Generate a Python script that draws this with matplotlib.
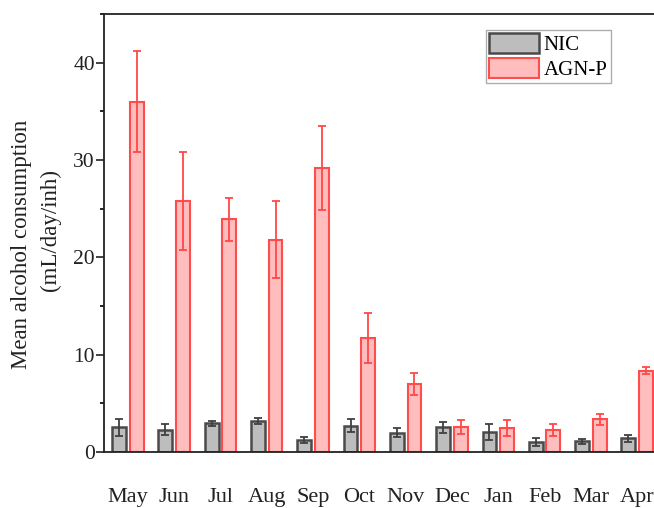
import matplotlib
matplotlib.use("Agg")
import matplotlib.pyplot as plt
import numpy as np

months = ["May", "Jun", "Jul", "Aug", "Sep", "Oct", "Nov", "Dec", "Jan", "Feb", "Mar", "Apr"]
nic_mean = [2.55, 2.3, 2.95, 3.2, 1.23, 2.7, 2.0, 2.55, 2.1, 1.05, 1.1, 1.4]
nic_err = [0.87, 0.53, 0.25, 0.3, 0.35, 0.66, 0.48, 0.58, 0.82, 0.39, 0.26, 0.34]
agn_mean = [36.0, 25.8, 23.9, 21.8, 29.2, 11.7, 7.0, 2.55, 2.45, 2.26, 3.35, 8.35]
agn_err = [5.2, 5.03, 2.2, 3.95, 4.3, 2.6, 1.1, 0.7, 0.83, 0.58, 0.56, 0.37]
y_ticks = [0, 10, 20, 30, 40]

plt.rcParams['font.family'] = ['Liberation Serif', 'DejaVu Serif']

W, H = 654, 508
fig = plt.figure(figsize=(W / 100, H / 100), dpi=100)
ax = fig.add_axes([104 / W, (H - 452) / H, (661 - 104) / W, (452 - 14) / H])

x = np.arange(len(months))
bw = 0.30
off = 0.19
gray_fc, gray_ec = "#bdbdbd", "#4a4a4a"
pink_fc, pink_ec = "#ffbdbd", "#ff4c4c"

ax.bar(x - off, nic_mean, bw, color=gray_fc, edgecolor=gray_ec, linewidth=1.8, label="NIC", zorder=2)
ax.bar(x + off, agn_mean, bw, color=pink_fc, edgecolor=pink_ec, linewidth=1.5, label="AGN-P", zorder=2)
ax.errorbar(x - off, nic_mean, yerr=nic_err, fmt="none", ecolor="#404040", elinewidth=1.3, capsize=3.2, capthick=1.3, zorder=3)
ax.errorbar(x + off, agn_mean, yerr=agn_err, fmt="none", ecolor="#ff4848", elinewidth=1.3, capsize=3.2, capthick=1.3, zorder=3)

ax.set_xlim(-0.513, 11.513)
ax.set_ylim(0, 45)
ax.set_xticks(x)
ax.set_xticklabels(months)
ax.tick_params(axis="x", length=0, labelsize=16, pad=26, colors="#222222")
ax.set_yticks(y_ticks)
ax.set_yticks([5, 15, 25, 35, 45], minor=True)
ax.tick_params(axis="y", which="major", direction="out", length=5.5, width=1.2, labelsize=15.5, pad=1, colors="#222222")
ax.tick_params(axis="y", which="minor", direction="out", length=3, width=1.2)
for s in ax.spines.values():
    s.set_linewidth(1.3)
    s.set_color("#222222")

leg = ax.legend(loc="upper right", bbox_to_anchor=(0.910, 0.9635), borderaxespad=0,
                fontsize=15, frameon=True, fancybox=False, edgecolor="#999999",
                handlelength=2.4, handleheight=1.1, labelspacing=0.12, borderpad=0.15,
                handletextpad=0.25)
leg.get_frame().set_linewidth(1.0)

ax.text(-0.149, 0.475, "Mean alcohol consumption", transform=ax.transAxes, rotation=90,
        ha="center", va="center", fontsize=16.5, color="#222222")
ax.text(-0.097, 0.507, "(mL/day/inh)", transform=ax.transAxes, rotation=90,
        ha="center", va="center", fontsize=16.5, color="#222222")

fig.savefig("out.png", dpi=100)
